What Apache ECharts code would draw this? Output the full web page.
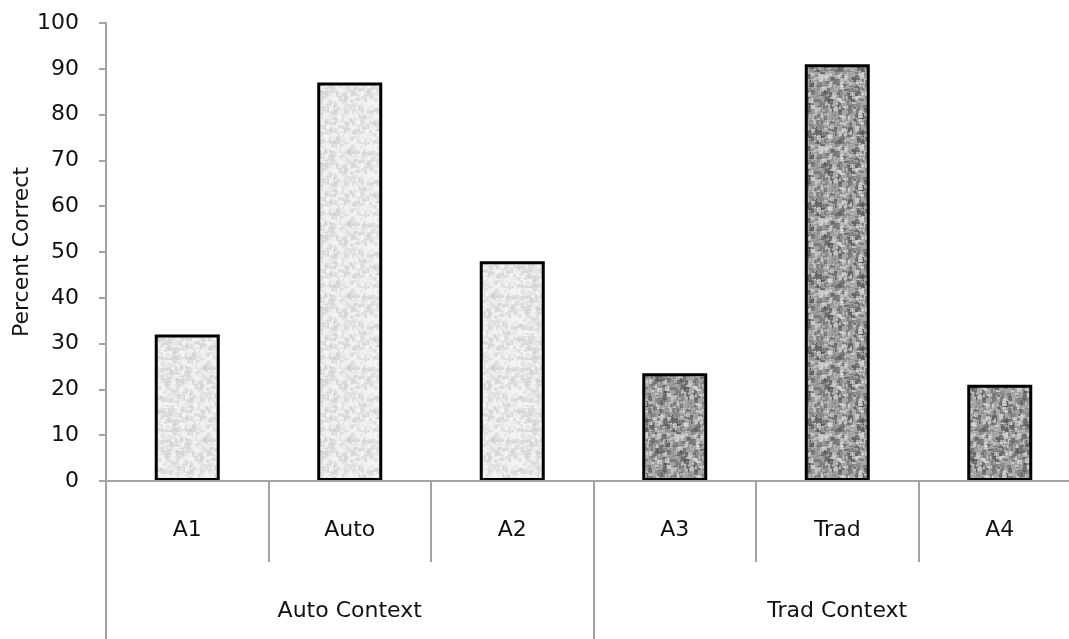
<!DOCTYPE html>
<html>
<head>
<meta charset="utf-8">
<script src="https://cdn.jsdelivr.net/npm/echarts@6/dist/echarts.min.js"></script>
<style>html,body{margin:0;padding:0;background:#fff}#c{width:1069px;height:639px}</style>
</head>
<body>
<div id="c"></div>
<script>
const categories = ['A1', 'Auto', 'A2', 'A3', 'Trad', 'A4'];
const groupLabels = ['Auto Context', 'Trad Context'];
const groupOf = [0, 0, 0, 1, 1, 1];
const values = [32, 87, 48, 23.5, 91, 21];
const yTicks = [0, 10, 20, 30, 40, 50, 60, 70, 80, 90, 100];

function makePattern(base, specks, n) {
  const cv = document.createElement('canvas');
  cv.width = 72; cv.height = 72;
  const ctx = cv.getContext('2d');
  ctx.fillStyle = base;
  ctx.fillRect(0, 0, 72, 72);
  let s = 12345;
  const rnd = () => { s = (s * 1103515245 + 12345) & 0x7fffffff; return s / 0x7fffffff; };
  for (let i = 0; i < n; i++) {
    const x = Math.floor(rnd() * 72), y = Math.floor(rnd() * 72);
    const w = 2 + Math.floor(rnd() * 4), h = 2 + Math.floor(rnd() * 4);
    ctx.fillStyle = specks[Math.floor(rnd() * specks.length)];
    ctx.globalAlpha = 0.55;
    ctx.fillRect(x, y, w, h);
  }
  ctx.globalAlpha = 1;
  return cv;
}
const lightPat = makePattern('#efefed', ['#d6d6d4', '#e2e2e0', '#f8f8f8', '#cfcfcd'], 800);
const darkPat = makePattern('#a4a6a6', ['#5a5c5c', '#7a7c7c', '#d0d2d2', '#e2e4e4', '#4a4c4c', '#959797'], 800);
const fills = [lightPat, darkPat];

const font = 'DejaVu Sans';
const chart = echarts.init(document.getElementById('c'), null, { renderer: 'canvas' });
chart.setOption({
  animation: false,
  backgroundColor: '#ffffff',
  grid: { left: 106, top: 23, width: 975, height: 458, containLabel: false, outerBoundsMode: 'none' },
  xAxis: [
    {
      type: 'category', data: categories, position: 'bottom', z: 10,
      axisLine: { show: true, lineStyle: { color: '#a3a3a3', width: 2 } },
      axisTick: { show: true, interval: 0, alignWithLabel: false, length: 81, lineStyle: { color: '#a3a3a3', width: 2 } },
      axisLabel: { interval: 0, margin: 38, color: '#111', fontSize: 22, fontFamily: font }
    },
    {
      type: 'category', data: groupLabels, position: 'bottom', z: 10,
      axisLine: { show: false },
      axisTick: { show: true, interval: 0, alignWithLabel: false, length: 170, lineStyle: { color: '#a3a3a3', width: 2 } },
      axisLabel: { interval: 0, margin: 119, color: '#111', fontSize: 22, fontFamily: font }
    }
  ],
  yAxis: {
    type: 'value', min: 0, max: 100, interval: 10,
    name: 'Percent Correct', nameLocation: 'middle', nameRotate: 90, nameGap: 73, nameMoveOverlap: false,
    nameTextStyle: { color: '#111', fontSize: 22, fontFamily: font },
    axisLine: { show: true, lineStyle: { color: '#a3a3a3', width: 2 } },
    axisTick: { show: true, length: 7, lineStyle: { color: '#a3a3a3', width: 2 } },
    splitLine: { show: false },
    axisLabel: {
      margin: 27, color: '#111', fontSize: 22, fontFamily: font,
      formatter: v => (yTicks.indexOf(v) >= 0 ? String(v) : '')
    }
  },
  series: [{
    type: 'bar', xAxisIndex: 0, barWidth: 65,
    data: values.map((v, i) => ({
      value: v,
      itemStyle: { color: { image: fills[groupOf[i]], repeat: 'repeat' }, borderColor: '#000', borderWidth: 3 }
    }))
  }]
});
</script>
</body>
</html>
